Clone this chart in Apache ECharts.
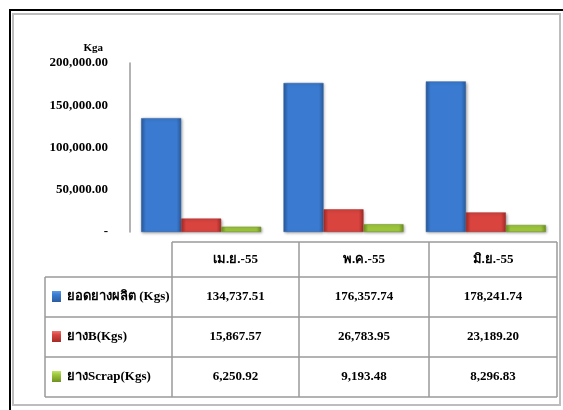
<!DOCTYPE html>
<html>
<head>
<meta charset="utf-8">
<script src="https://cdn.jsdelivr.net/npm/echarts@6/dist/echarts.min.js"></script>
<style>
  html, body { margin: 0; padding: 0; background: #fff; }
  #mychart { width: 563px; height: 410px; }
</style>
</head>
<body>
<div id="mychart"></div>
<script>
// data
var months = ['เม.ย.-55', 'พ.ค.-55', 'มิ.ย.-55'];
var seriesNames = ['ยอดยางผลิต (Kgs)', 'ยางB(Kgs)', 'ยางScrap(Kgs)'];
var produced = [134737.51, 176357.74, 178241.74];
var rubberB = [15867.57, 26783.95, 23189.20];
var scrap = [6250.92, 9193.48, 8296.83];
var yTicks = [0, 50000, 100000, 150000, 200000];

var seriesData = [produced, rubberB, scrap];
var serif = '"Liberation Serif", "Times New Roman", serif';

// bar colours: [edge, centre, top]
var colors = [
    ['#2b5c9f', '#3a7bd1', '#5b9be6'],
    ['#a32b28', '#d9443f', '#ec7672'],
    ['#6f9123', '#9dc63c', '#c3e46a']
];

function fmt(v) {
    if (v === 0) return '-';
    return v.toLocaleString('en-US', { minimumFractionDigits: 2, maximumFractionDigits: 2 });
}

function barGrad(c) {
    return new echarts.graphic.LinearGradient(0, 0, 1, 0, [
        { offset: 0, color: c[0] },
        { offset: 0.12, color: c[1] },
        { offset: 0.88, color: c[1] },
        { offset: 1, color: c[0] }
    ]);
}

var myChart = echarts.init(document.getElementById('mychart'));

// data table below the plot
var colX = [45, 172, 299, 429, 557];
var rowY = [242, 277, 317, 357, 397];
var lineColor = '#9a9a9a';
var table = [];

// frame
table.push({ type: 'polyline', shape: { points: [[10, 410], [10, 10], [563, 10]] }, style: { stroke: '#000', lineWidth: 2, fill: null }, silent: true });
table.push({ type: 'rect', shape: { x: 13, y: 14, width: 547, height: 391 }, style: { stroke: '#bdbdbd', lineWidth: 2, fill: null }, silent: true });

// horizontal lines
table.push({ type: 'line', shape: { x1: colX[1], y1: rowY[0], x2: colX[4], y2: rowY[0] }, style: { stroke: lineColor, lineWidth: 1.5 } });
for (var r = 1; r < rowY.length; r++) {
    table.push({ type: 'line', shape: { x1: colX[0], y1: rowY[r], x2: colX[4], y2: rowY[r] }, style: { stroke: lineColor, lineWidth: 1.5 } });
}
// vertical lines
table.push({ type: 'line', shape: { x1: colX[0], y1: rowY[1], x2: colX[0], y2: rowY[4] }, style: { stroke: lineColor, lineWidth: 1.5 } });
for (var c = 1; c < colX.length; c++) {
    table.push({ type: 'line', shape: { x1: colX[c], y1: rowY[0], x2: colX[c], y2: rowY[4] }, style: { stroke: lineColor, lineWidth: 1.5 } });
}
// header
months.forEach(function (m, i) {
    table.push({
        type: 'text', x: (colX[i + 1] + colX[i + 2]) / 2, y: (rowY[0] + rowY[1]) / 2,
        style: { text: m, fill: '#000', font: 'bold 13px ' + serif, align: 'center', verticalAlign: 'middle' }
    });
});
// rows
seriesNames.forEach(function (name, s) {
    var cy = (rowY[s + 1] + rowY[s + 2]) / 2;
    table.push({
        type: 'rect', shape: { x: 52, y: cy - 6, width: 9, height: 11 },
        style: {
            fill: new echarts.graphic.LinearGradient(0, 0, 0, 1, [
                { offset: 0, color: colors[s][2] }, { offset: 0.35, color: colors[s][1] }, { offset: 1, color: colors[s][0] }
            ])
        }
    });
    table.push({
        type: 'text', x: 67, y: cy,
        style: { text: name, fill: '#000', font: 'bold 13px ' + serif, align: 'left', verticalAlign: 'middle' }
    });
    seriesData[s].forEach(function (v, i) {
        table.push({
            type: 'text', x: (colX[i + 1] + colX[i + 2]) / 2, y: cy,
            style: { text: fmt(v), fill: '#000', font: 'bold 13px ' + serif, align: 'center', verticalAlign: 'middle' }
        });
    });
});

var option = {
    animation: false,
    grid: { left: 130, right: 6, top: 63, bottom: 178 },
    xAxis: {
        type: 'category',
        data: months,
        axisLine: { show: false },
        axisTick: { show: false },
        axisLabel: { show: false }
    },
    yAxis: {
        type: 'value',
        min: yTicks[0],
        max: yTicks[yTicks.length - 1],
        interval: yTicks[1] - yTicks[0],
        name: 'Kga',
        nameLocation: 'end',
        nameGap: 9,
        nameTextStyle: { fontFamily: serif, fontWeight: 'bold', fontSize: 11, color: '#000', align: 'right', padding: [0, 27, 0, 0] },
        axisLine: { show: true, lineStyle: { color: '#9a9a9a', width: 1.5 } },
        axisTick: { show: false },
        splitLine: { show: false },
        axisLabel: {
            margin: 22,
            fontFamily: serif, fontWeight: 'bold', fontSize: 13, color: '#000',
            formatter: function (v) { return fmt(v); }
        }
    },
    series: seriesNames.map(function (name, s) {
        return {
            name: name,
            type: 'bar',
            data: seriesData[s],
            barWidth: 40,
            barGap: '0%',
            itemStyle: {
                color: barGrad(colors[s]),
                borderColor: colors[s][0],
                borderWidth: 0.5,
                shadowColor: 'rgba(0,0,0,0.35)',
                shadowBlur: 3,
                shadowOffsetX: 1,
                shadowOffsetY: 1
            }
        };
    }),
    graphic: table
};

if (option && typeof option === "object") {
    myChart.setOption(option, true);
}
</script>
</body>
</html>
